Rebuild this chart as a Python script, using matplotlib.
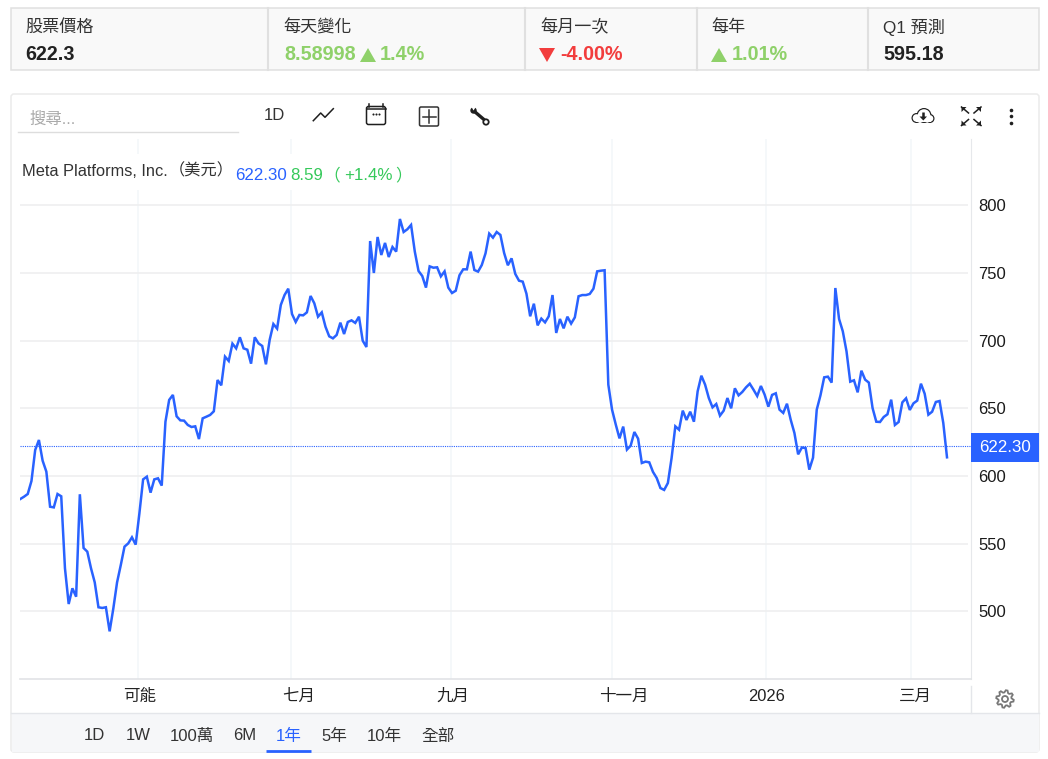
import matplotlib
matplotlib.use("Agg")
import matplotlib.pyplot as plt
import numpy as np
from matplotlib.patches import Rectangle, Polygon, FancyBboxPatch, Circle
from matplotlib.transforms import ScaledTranslation

plt.rcParams['font.family'] = ['Liberation Sans', 'Noto Sans CJK TC', 'DejaVu Sans']

# closing prices, one per trading day
prices_spring = [
    583.0, 584.7, 586.7, 596.3, 619.2, 626.6, 611.3, 603.2, 577.3, 576.8,
    586.7, 585.0, 531.8, 505.4, 517.0, 510.8, 586.5, 546.8, 544.1, 531.8,
    521.4, 503.0, 502.5, 503.0, 485.2, 502.2, 521.4, 534.2, 547.8, 550.2,
    554.7, 549.3, 572.4, 597.5, 599.5, 587.7, 597.5, 598.3, 592.9, 640.1,
    656.2, 659.9, 644.1, 641.1, 640.9, 637.7, 636.2, 636.7, 627.3, 642.6,
    643.8, 645.1, 647.8, 670.9, 667.0, 688.2, 685.0, 697.8, 694.3, 702.5,
    694.3, 693.3, 683.0, 702.5, 698.0,
]
prices_summer = [
    696.1, 682.5, 700.5, 712.3, 708.9, 726.4, 733.7, 738.4, 719.7, 713.8,
    719.0, 718.7, 720.9, 733.0, 727.6, 717.7, 720.9, 710.3, 703.2, 701.7,
    704.2, 713.3, 704.9, 713.8, 715.0, 713.1, 717.7, 700.0, 695.3, 773.6,
    750.0, 776.6, 763.3, 772.2, 761.8, 769.2, 765.8, 789.9, 780.3, 782.3,
    785.5, 765.8, 751.5, 747.8, 739.2, 754.9, 753.9, 754.2, 747.5, 751.2,
    739.2, 735.2, 736.9, 748.3, 752.7, 752.7, 765.8, 752.2, 751.0, 755.9,
    764.5, 779.1, 776.1, 780.3, 778.1,
]
prices_autumn = [
    764.8, 755.7, 760.8, 749.3, 744.3, 743.6, 734.7, 718.0, 727.3, 711.3,
    716.3, 713.5, 718.0, 733.7, 705.7, 716.0, 709.1, 717.7, 712.6, 717.2,
    732.8, 733.7, 733.7, 734.5, 738.4, 751.2, 751.7, 752.0, 667.5, 649.0,
    638.0, 627.8, 636.5, 619.5, 622.4, 632.5, 627.6, 609.6, 610.6, 610.1,
    603.0, 598.5, 591.1, 589.7, 594.8, 613.3, 636.7, 634.2, 648.3, 641.4,
    647.5, 640.1, 662.6, 674.1, 667.5, 657.6, 650.7, 653.2, 644.6,
]
prices_winter = [
    648.3, 657.6, 650.0, 664.8, 659.6, 662.1, 665.5, 668.2, 663.8, 659.1,
    666.5, 660.1, 651.2, 659.9, 661.1, 649.0, 646.6, 653.4, 641.6, 631.8,
    616.0, 621.0, 620.7, 604.7, 613.5, 649.0, 659.6, 672.9, 673.4, 669.0,
    738.9, 716.0, 706.9, 692.1, 669.7, 670.7, 661.8, 677.8, 671.2, 669.0,
    650.2, 640.1, 639.9, 643.6, 645.6, 656.4, 637.7, 639.9, 654.4, 657.4,
    648.8, 653.7, 655.7, 668.2, 660.8, 645.3, 647.5, 654.7, 655.4, 639.2,
    613.8,
]
prices = prices_spring + prices_summer + prices_autumn + prices_winter

y_ticks = [500, 550, 600, 650, 700, 750, 800]
x_tick_labels = ['可能', '七月', '九月', '十一月', '2026', '三月']
last_close = 622.30

stat_heads = ['股票價格', '每天變化', '每月一次', '每年', 'Q1 預測']
range_labels = ['1D', '1W', '100萬', '6M', '1年', '5年', '10年', '全部']

BLUE = '#2962ff'
GREEN = '#8fd16a'
RED = '#f23d3d'
INK = '#222222'
ICON = '#1f1f1f'
TITLE_GREEN = '#35c95a'

fig = plt.figure(figsize=(10.48, 7.59), dpi=100)

# page furniture sits behind, in pixel coordinates
bg = fig.add_axes([0, 0, 1, 1], zorder=0)
bg.set_xlim(0, 1048)
bg.set_ylim(759, 0)
bg.axis('off')


def px_axes(left, top, right, bottom):
    return [left / 1048, 1 - bottom / 759, (right - left) / 1048, (bottom - top) / 759]


# stat strip
bg.add_patch(Rectangle((11, 8), 1028, 62, fc='#f9f9f9', ec='#e0e0e0', lw=1.1))
for xd in [268, 525, 697, 868]:
    bg.plot([xd, xd], [8, 70], color='#e0e0e0', lw=1.5)
for xt, head in zip([25, 283, 540, 711, 883], stat_heads):
    bg.text(xt, 27, head, fontsize=12.3, color='#333333', va='center')
bg.text(25, 55, '622.3', fontsize=14.2, fontweight='bold', color=INK, va='center')
bg.text(284, 55, '8.58998', fontsize=14.2, fontweight='bold', color=GREEN, va='center')
bg.add_patch(Polygon([[360, 62], [376, 62], [368, 48]], fc=GREEN, ec='none'))
bg.text(380, 55, '1.4%', fontsize=14.2, fontweight='bold', color=GREEN, va='center')
bg.add_patch(Polygon([[539, 48], [555, 48], [547, 62]], fc=RED, ec='none'))
bg.text(560, 55, '-4.00%', fontsize=14.2, fontweight='bold', color=RED, va='center')
bg.add_patch(Polygon([[711, 62], [727, 62], [719, 48]], fc=GREEN, ec='none'))
bg.text(732, 55, '1.01%', fontsize=14.2, fontweight='bold', color=GREEN, va='center')
bg.text(883, 55, '595.18', fontsize=14.2, fontweight='bold', color=INK, va='center')

# chart card and range bar
bg.add_patch(FancyBboxPatch((11, 94), 1028, 658, boxstyle='round,pad=0,rounding_size=3',
                            fc='white', ec='#ebebeb', lw=1.1))
bg.add_patch(Rectangle((11.5, 713), 1027, 38.5, fc='#f6f7f9', ec='none'))
bg.plot([11, 1039], [713, 713], color='#e4e6ea', lw=1)
bg.plot([971, 971], [686, 713], color='#e4e6ea', lw=1)
for xt, lab in zip([94, 138, 192, 245, 289, 334, 384, 438], range_labels):
    bg.text(xt, 736, lab, fontsize=12, ha='center', va='center',
            color=BLUE if lab == '1年' else '#333333')
bg.plot([266, 311], [751, 751], color=BLUE, lw=2, solid_capstyle='butt')

# price chart
ax = fig.add_axes(px_axes(20, 139, 971, 679), zorder=1)
ax.patch.set_alpha(0)
days = np.arange(len(prices))
step = (947 - 20.3) / (len(prices) - 1)
ax.set_xlim(-0.3 / step, (971 - 20.3) / step)
ax.set_ylim(450, 849)
ax.plot(days, prices, color=BLUE, lw=1.8, solid_joinstyle='miter', zorder=3)
ax.axhline(last_close, color=BLUE, lw=0.8, ls=(0, (1, 1)), zorder=2)

ax.set_yticks(y_ticks)
ax.yaxis.tick_right()
ax.tick_params(axis='y', length=0, pad=5, labelsize=12, labelcolor='#1a1a1a')
# horizontal rules stop just short of the price scale
ax.hlines(y_ticks, -0.3 / step, (968 - 20.3) / step, color='#eeeeef', lw=1.1, zorder=1)
ax.set_axisbelow(True)

# month lines do not fall on whole days in the source chart
month_px = np.array([138, 291, 451, 612, 766, 911])
ax.set_xticks((month_px - 20.3) / step)
ax.set_xticklabels(x_tick_labels)
ax.tick_params(axis='x', length=0, pad=7, labelsize=11.9, labelcolor='#222222')
ax.grid(axis='x', color='#f3f6f9', lw=1.1)
for lbl, dx in zip(ax.get_xticklabels(), [2, 8, 2, 12, 1, 4]):
    lbl.set_transform(lbl.get_transform() + ScaledTranslation(dx / 100, 0, fig.dpi_scale_trans))

for side in ['top', 'left']:
    ax.spines[side].set_visible(False)
ax.spines['right'].set_color('#e6e8eb')
ax.spines['bottom'].set_color('#e1e3e6')
ax.spines['bottom'].set_linewidth(1.2)

# everything drawn over the plot
top = fig.add_axes([0, 0, 1, 1], zorder=2)
top.set_xlim(0, 1048)
top.set_ylim(759, 0)
top.axis('off')
top.patch.set_alpha(0)

# title strip hides the month lines behind it
top.add_patch(Rectangle((21, 154), 383, 36, fc='white', ec='none'))
top.text(22, 171, 'Meta Platforms, Inc.', fontsize=11.8, color='#333333', va='center')
top.text(169, 171, '（美元）', fontsize=11.7, color='#333333', va='center')
top.text(235, 175, '622.30', fontsize=12.2, color=BLUE, va='center')
top.text(290, 175, '8.59', fontsize=12.2, color=TITLE_GREEN, va='center')
top.text(323, 175, '（', fontsize=12, color=TITLE_GREEN, va='center')
top.text(344, 175, '+1.4%', fontsize=12.2, color=TITLE_GREEN, va='center')
top.text(395, 175, '）', fontsize=12, color=TITLE_GREEN, va='center')

# last price tag
top.add_patch(Rectangle((971, 433), 68, 29, fc=BLUE, ec='none'))
top.text(1005, 447, '622.30', fontsize=12.2, color='white', ha='center', va='center')

# search box
top.text(29, 119, '搜尋...', fontsize=11.8, color='#aaaaaa', va='center')
top.plot([18, 238], [132, 132], color='#dddddd', lw=1)

# toolbar
top.text(274, 115, '1D', fontsize=12, color='#333333', ha='center', va='center')
top.plot([313.3, 320.7, 325, 333.3], [120.7, 113, 117.3, 108.7], color=ICON, lw=1.1)
top.add_patch(FancyBboxPatch((366.5, 106.5), 19, 18, boxstyle='round,pad=0,rounding_size=2',
                             fc='none', ec=ICON, lw=1.1))
top.plot([366.5, 385.5], [109, 109], color=ICON, lw=1.1)
top.plot([368.5, 368.5], [103.5, 106.5], color=ICON, lw=1.1)
top.plot([383, 383], [103.5, 106.5], color=ICON, lw=1.1)
top.plot([372.7, 376, 379.3], [114, 114, 114], ls='none', marker='o', ms=1.5, mew=0, color=ICON)
top.add_patch(FancyBboxPatch((419.5, 107), 19, 19, boxstyle='round,pad=0,rounding_size=1.5',
                             fc='none', ec='#333333', lw=1.1))
top.plot([429, 429], [110, 123], color='#333333', lw=1.1)
top.plot([422.5, 435.5], [116.5, 116.5], color='#333333', lw=1.1)
# wrench
top.plot([474.5, 484.5], [111.5, 120], color=ICON, lw=2.4, solid_capstyle='butt')
top.add_patch(Circle((473.5, 110.5), 3.2, fc=ICON, ec='none'))
top.add_patch(Polygon([[471, 106], [476.5, 106], [473.5, 110.5]], fc='white', ec='none'))
top.add_patch(Circle((486, 122), 2.7, fc='white', ec=ICON, lw=1.3))

# cloud download, dark blobs first then white blobs inside
for cx, cy, r in [(924, 115.5, 7.5), (916.5, 118, 5), (930, 118.5, 4.5)]:
    top.add_patch(Circle((cx, cy), r, fc=ICON, ec='none'))
for cx, cy, r in [(924, 115.5, 6.3), (916.5, 118, 3.8), (930, 118.5, 3.3)]:
    top.add_patch(Circle((cx, cy), r, fc='white', ec='none'))
top.add_patch(Rectangle((916, 117), 15, 4.8, fc='white', ec='none'))
top.add_patch(Polygon([[919.5, 116.5], [927, 116.5], [923.3, 120.5]], fc=ICON, ec='none'))
top.plot([923.3, 923.3], [112, 117], color=ICON, lw=1.8, solid_capstyle='butt')

# fullscreen corners
for cx, cy, sx, sy in [(961.5, 107, 1, 1), (981, 107, -1, 1), (961.5, 125.5, 1, -1), (981, 125.5, -1, -1)]:
    top.add_patch(Polygon([[cx, cy], [cx + 5 * sx, cy], [cx, cy + 5 * sy]], fc=ICON, ec='none'))
    top.plot([cx, cx + 7 * sx], [cy, cy + 6 * sy], color=ICON, lw=1.1)

# menu dots
top.plot([1010.7, 1010.7, 1010.7], [109.7, 116, 122.6], ls='none', marker='o', ms=2.6, color=ICON, mew=0)

# gear
gear_angles = np.deg2rad(np.arange(0, 360, 11.25) + 5.6)
gear_radii = np.tile([8.8, 8.8, 6.6, 6.6], 8)
top.add_patch(Polygon(np.column_stack([1005 + gear_radii * np.cos(gear_angles),
                                       699 + gear_radii * np.sin(gear_angles)]),
                      fc='none', ec='#777777', lw=1.3))
top.add_patch(Circle((1005, 699), 3, fc='none', ec='#777777', lw=1.3))

fig.savefig('out.png', dpi=100)
